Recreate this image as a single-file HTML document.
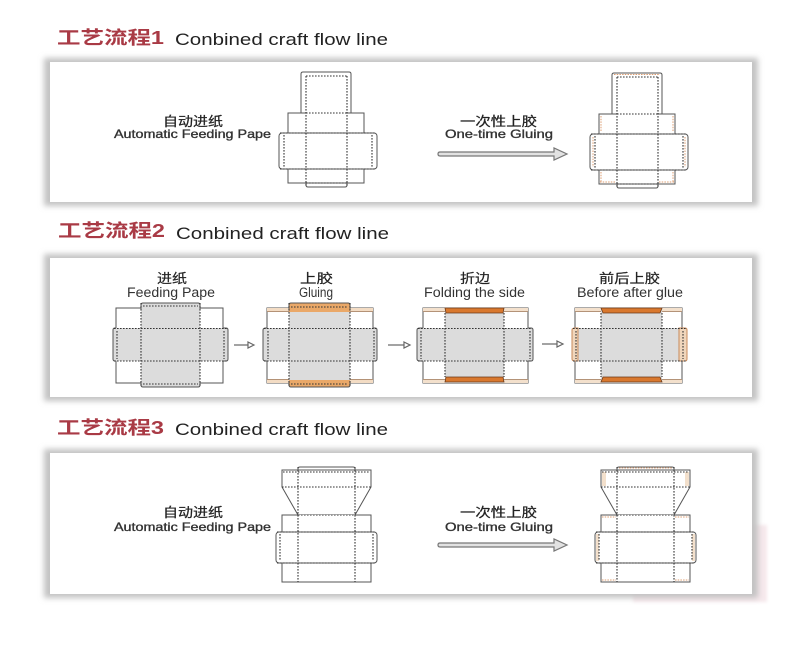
<!DOCTYPE html>
<html><head><meta charset="utf-8"><style>
html,body{margin:0;padding:0;background:#fff;}
svg{display:block;}
text{font-family:"Liberation Sans","Noto Sans CJK SC",sans-serif;}
</style></head><body>
<svg width="800" height="646" viewBox="0 0 800 646" xmlns="http://www.w3.org/2000/svg">
<defs>
<filter id="blur" x="-10%" y="-30%" width="120%" height="160%"><feGaussianBlur stdDeviation="3"/></filter>
<filter id="blur2" x="-10%" y="-30%" width="120%" height="160%"><feGaussianBlur stdDeviation="1.5"/></filter>
</defs>
<rect width="800" height="646" fill="#fff"/>

<!-- faint pink shape -->
<rect x="633" y="525" width="134" height="77" fill="#f6e8ec" filter="url(#blur2)"/>

<!-- panels with shadows -->
<rect x="44" y="58" width="714" height="148" fill="#c2c2c2" filter="url(#blur)"/>
<rect x="50" y="62" width="702" height="140" fill="#fff"/>
<rect x="44" y="254" width="714" height="147" fill="#c2c2c2" filter="url(#blur)"/>
<rect x="50" y="258" width="702" height="139" fill="#fff"/>
<rect x="44" y="449" width="714" height="149" fill="#c2c2c2" filter="url(#blur)"/>
<rect x="50" y="453" width="702" height="141" fill="#fff"/>

<!-- Titles -->
<text x="57" y="44" font-size="18" font-weight="bold" fill="#a93a45" textLength="107" lengthAdjust="spacingAndGlyphs">工艺流程1</text>
<text x="175" y="45" font-size="17" fill="#222" textLength="213" lengthAdjust="spacingAndGlyphs">Conbined craft flow line</text>
<text x="58" y="237" font-size="18" font-weight="bold" fill="#a93a45" textLength="107" lengthAdjust="spacingAndGlyphs">工艺流程2</text>
<text x="176" y="239" font-size="17" fill="#222" textLength="213" lengthAdjust="spacingAndGlyphs">Conbined craft flow line</text>
<text x="57" y="434" font-size="18" font-weight="bold" fill="#a93a45" textLength="107" lengthAdjust="spacingAndGlyphs">工艺流程3</text>
<text x="175" y="435" font-size="17" fill="#222" textLength="213" lengthAdjust="spacingAndGlyphs">Conbined craft flow line</text>

<!-- ===== Panel 1 ===== -->
<text x="163" y="126" font-size="13" fill="#222" stroke="#222" stroke-width="0.25" textLength="60" lengthAdjust="spacingAndGlyphs">自动进纸</text>
<text x="114" y="138" font-size="12" fill="#333" stroke="#333" stroke-width="0.35" textLength="157" lengthAdjust="spacingAndGlyphs">Automatic Feeding Pape</text>
<text x="460" y="126" font-size="13" fill="#222" stroke="#222" stroke-width="0.25" textLength="77" lengthAdjust="spacingAndGlyphs">一次性上胶</text>
<text x="445" y="138" font-size="12" fill="#333" stroke="#333" stroke-width="0.35" textLength="108" lengthAdjust="spacingAndGlyphs">One-time Gluing</text>
<path d="M440,152 H554 V148 L567,154 L554,160 V156 H440 Q438,156 438,154 Q438,152 440,152 Z" fill="#e2e2e2" stroke="#777" stroke-width="1.2"/>

<g id="box1">
  <g stroke="#555" stroke-width="1" fill="#fff">
    <path d="M301,114 L301,74 Q301,72 303,72 L349,72 Q351,72 351,74 L351,114 Z"/>
    <path d="M306,113 H288 V183 H364 V113 H347"/>
    <path d="M306,183 V185 Q306,187 308,187 H345 Q347,187 347,185 V183" fill="none"/>
    <rect x="279" y="133" width="98" height="36" rx="3"/>
  </g>
  <g stroke="#333" stroke-width="1.1" stroke-dasharray="1.6,1.4" fill="none">
    <path d="M306,76 V186 M347,76 V186 M306,76 H347 M306,113 H347 M306,183 H347 M280,133 H376 M280,169 H376 M284,135 V167 M372,135 V167"/>
  </g>
</g>

<g transform="translate(311,1)">
  <g stroke="#555" stroke-width="1" fill="#fff">
    <path d="M301,114 L301,74 Q301,72 303,72 L349,72 Q351,72 351,74 L351,114 Z"/>
    <path d="M306,113 H288 V183 H364 V113 H347"/>
    <path d="M306,183 V185 Q306,187 308,187 H345 Q347,187 347,185 V183" fill="none"/>
    <rect x="279" y="133" width="98" height="36" rx="3"/>
  </g>
  <g stroke="#dd9d70" stroke-width="1" stroke-dasharray="1.5,1.2" fill="none">
    <path d="M303,73.5 H349 M290,115 V131 M362,115 V131 M282,136 V166 M374,136 V166 M290,171 V181 M362,171 V181 M289,181 H305 M348,181 H363"/>
  </g>
  <g stroke="#333" stroke-width="1.1" stroke-dasharray="1.6,1.4" fill="none">
    <path d="M306,76 V186 M347,76 V186 M306,76 H347 M306,113 H347 M306,183 H347 M280,133 H376 M280,169 H376 M284,135 V167 M372,135 V167"/>
  </g>
</g>

<!-- ===== Panel 2 ===== -->
<g font-size="13" fill="#222" stroke="#222" stroke-width="0.2">
<text x="157" y="283" textLength="30" lengthAdjust="spacingAndGlyphs">进纸</text>
<text x="300" y="283" textLength="33" lengthAdjust="spacingAndGlyphs">上胶</text>
<text x="460" y="283" textLength="30" lengthAdjust="spacingAndGlyphs">折边</text>
<text x="599" y="283" textLength="61" lengthAdjust="spacingAndGlyphs">前后上胶</text>
</g>
<g font-size="13.5" fill="#333">
<text x="127" y="297" textLength="88" lengthAdjust="spacingAndGlyphs">Feeding Pape</text>
<text x="299" y="297" textLength="34" lengthAdjust="spacingAndGlyphs">Gluing</text>
<text x="424" y="297" textLength="101" lengthAdjust="spacingAndGlyphs">Folding the side</text>
<text x="577" y="297" textLength="106" lengthAdjust="spacingAndGlyphs">Before after glue</text>
</g>

<!-- small arrows -->
<g stroke="#666" stroke-width="1.2" fill="#fff">
  <path d="M234,345 H248" fill="none"/><path d="M248,342 L254,345 L248,348 Z"/>
  <path d="M388,345 H404" fill="none"/><path d="M404,342 L410,345 L404,348 Z"/>
  <path d="M542,344 H557" fill="none"/><path d="M557,341 L563,344 L557,347 Z"/>
</g>

<!-- Box A -->
<g>
  <rect x="116" y="308" width="107" height="75" fill="#fff" stroke="#555"/>
  <rect x="116" y="328" width="107" height="33" fill="#dcdcdc"/>
  <path d="M141,305 Q141,303 143,303 H198 Q200,303 200,305 V385 Q200,387 198,387 H143 Q141,387 141,385 Z" fill="#dcdcdc"/>
  <path d="M116,328 H115 Q113,328 113,330 V359 Q113,361 115,361 H116 M223,328 H226 Q228,328 228,330 V359 Q228,361 226,361 H223" fill="#dcdcdc" stroke="#555"/>
  <path d="M141,309 V305 Q141,303 143,303 H198 Q200,303 200,305 V309 M141,382 V385 Q141,387 143,387 H198 Q200,387 200,385 V382" fill="none" stroke="#555"/>
  <path d="M141,303 V387 M200,303 V387 M143,306 H198 M143,384 H198 M114,328.5 H227 M114,361 H227 M117,331 V359 M224,331 V359" fill="none" stroke="#333" stroke-width="1.1" stroke-dasharray="1.6,1.4"/>
</g>

<!-- Box B -->
<g>
  <rect x="267" y="308" width="106" height="75" fill="#fff" stroke="#555"/>
  <rect x="267" y="308" width="106" height="4" fill="#f3dcc4"/>
  <rect x="267" y="379" width="106" height="4" fill="#f3dcc4"/>
  <path d="M267,311.5 H373 M267,379.5 H373" stroke="#a07a5c" stroke-width="0.8"/>
  <rect x="267" y="328" width="106" height="33" fill="#dcdcdc"/>
  <path d="M289,305 Q289,303 291,303 H348 Q350,303 350,305 V385 Q350,387 348,387 H291 Q289,387 289,385 Z" fill="#dcdcdc"/>
  <path d="M289,305 Q289,303 291,303 H348 Q350,303 350,305 V312 H289 Z" fill="#eaa868"/>
  <path d="M289,380 H350 V385 Q350,387 348,387 H291 Q289,387 289,385 Z" fill="#eaa868"/>
  <path d="M267,328 H266 Q263,328 263,330 V359 Q263,361 266,361 H267 M373,328 H375 Q377,328 377,330 V359 Q377,361 375,361 H373" fill="#dcdcdc" stroke="#555"/>
  <path d="M289,309 V305 Q289,303 291,303 H348 Q350,303 350,305 V309 M289,382 V385 Q289,387 291,387 H348 Q350,387 350,385 V382" fill="none" stroke="#555"/>
  <path d="M289,303 V387 M350,303 V387 M291,307 H348 M291,384 H348 M264,328.5 H376 M264,361 H376 M268,331 V359 M374,331 V359" fill="none" stroke="#333" stroke-width="1.1" stroke-dasharray="1.6,1.4"/>
</g>

<!-- Box C -->
<g>
  <rect x="423" y="308" width="105" height="75" fill="#fff" stroke="#555"/>
  <rect x="423" y="308" width="105" height="4" fill="#f3e0cc"/>
  <rect x="423" y="379" width="105" height="4" fill="#f3e0cc"/>
  <path d="M423,311.5 H528 M423,379.5 H528" stroke="#a07a5c" stroke-width="0.8"/>
  <rect x="423" y="328" width="105" height="33" fill="#dcdcdc"/>
  <rect x="445" y="308" width="59" height="75" fill="#dcdcdc"/>
  <path d="M445,308 H504 L503,313 H446 Z" fill="#d9782e" stroke="#6a3a1a" stroke-width="0.8"/>
  <path d="M446,377 H503 L504,382 H445 Z" fill="#d9782e" stroke="#6a3a1a" stroke-width="0.8"/>
  <path d="M423,328 H420 Q417,328 417,330 V359 Q417,361 420,361 H423 M528,328 H531 Q533,328 533,330 V359 Q533,361 531,361 H528" fill="#dcdcdc" stroke="#555"/>
  <path d="M445,313 V377 M504,313 V377 M418,328.5 H532 M418,361 H532 M421,331 V359 M530,331 V359" fill="none" stroke="#333" stroke-width="1.1" stroke-dasharray="1.6,1.4"/>
</g>

<!-- Box D -->
<g>
  <rect x="575" y="308" width="107" height="75" fill="#fff" stroke="#555"/>
  <rect x="575" y="308" width="107" height="4" fill="#f3e0cc"/>
  <rect x="575" y="379" width="107" height="4" fill="#f3e0cc"/>
  <path d="M575,311.5 H682 M575,379.5 H682" stroke="#a07a5c" stroke-width="0.8"/>
  <rect x="575" y="328" width="107" height="33" fill="#dcdcdc"/>
  <rect x="601" y="308" width="61" height="75" fill="#dcdcdc"/>
  <path d="M601,308 H662 L660,313 H603 Z" fill="#d9782e" stroke="#6a3a1a" stroke-width="0.8"/>
  <path d="M603,377 H660 L662,382 H601 Z" fill="#d9782e" stroke="#6a3a1a" stroke-width="0.8"/>
  <path d="M575,328 H575 Q572,328 572,330 V359 Q572,361 575,361 H578 V328 Z" fill="#f0d6bc" stroke="#c98a5a"/>
  <path d="M682,328 H685 Q687,328 687,330 V359 Q687,361 685,361 H679 V328 Z" fill="#f0d6bc" stroke="#c98a5a"/>
  <path d="M601,313 V377 M662,313 V377 M573,328.5 H686 M573,361 H686 M576,331 V359 M683,331 V359" fill="none" stroke="#333" stroke-width="1.1" stroke-dasharray="1.6,1.4"/>
</g>

<!-- ===== Panel 3 ===== -->
<text x="163" y="517" font-size="13" fill="#222" stroke="#222" stroke-width="0.25" textLength="60" lengthAdjust="spacingAndGlyphs">自动进纸</text>
<text x="114" y="531" font-size="12" fill="#333" stroke="#333" stroke-width="0.35" textLength="157" lengthAdjust="spacingAndGlyphs">Automatic Feeding Pape</text>
<text x="460" y="517" font-size="13" fill="#222" stroke="#222" stroke-width="0.25" textLength="77" lengthAdjust="spacingAndGlyphs">一次性上胶</text>
<text x="445" y="531" font-size="12" fill="#333" stroke="#333" stroke-width="0.35" textLength="108" lengthAdjust="spacingAndGlyphs">One-time Gluing</text>
<path d="M440,543 H554 V539 L567,545 L554,551 V547 H440 Q438,547 438,545 Q438,543 440,543 Z" fill="#e2e2e2" stroke="#777" stroke-width="1.2"/>

<g>
  <g stroke="#555" stroke-width="1" fill="#fff">
    <path d="M298,470 V468.5 Q298,467 300,467 H353 Q355,467 355,468.5 V470" fill="none"/>
    <path d="M282,470 H371 V487 L355,515 H298 L282,487 Z"/>
    <path d="M298,515 H282 V582 H371 V515 H355"/>
    <rect x="276" y="532" width="101" height="31" rx="3"/>
  </g>
  <path d="M298,467 V582 M355,467 V582 M283,472 H370 M282,487 H371 M298,515 H355 M277,532 H376 M277,563 H376 M280,534 V561 M373,534 V561" fill="none" stroke="#333" stroke-width="1.1" stroke-dasharray="1.6,1.4"/>
</g>

<g transform="translate(319,0)">
  <g stroke="#555" stroke-width="1" fill="#fff">
    <path d="M298,470 V468.5 Q298,467 300,467 H353 Q355,467 355,468.5 V470" fill="none"/>
    <path d="M282,470 H371 V487 L355,515 H298 L282,487 Z"/>
    <path d="M298,515 H282 V582 H371 V515 H355"/>
    <rect x="276" y="532" width="101" height="31" rx="3"/>
  </g>
  <rect x="283" y="472" width="4" height="14" fill="#f3e0cc"/>
  <rect x="366" y="472" width="4" height="14" fill="#f3e0cc"/>
  <rect x="277" y="534" width="3" height="27" fill="#f3e0cc"/>
  <rect x="373" y="534" width="3" height="27" fill="#f3e0cc"/>
  <path d="M300,468 H353 M283,517 H297 M356,517 H370 M283,580 H297 M356,580 H370" stroke="#dd9d70" stroke-width="1" stroke-dasharray="1.5,1.2" fill="none"/>
  <path d="M298,467 V582 M355,467 V582 M283,472 H370 M282,487 H371 M298,515 H355 M277,532 H376 M277,563 H376 M280,534 V561 M373,534 V561" fill="none" stroke="#333" stroke-width="1.1" stroke-dasharray="1.6,1.4"/>
</g>

</svg>
</body></html>
